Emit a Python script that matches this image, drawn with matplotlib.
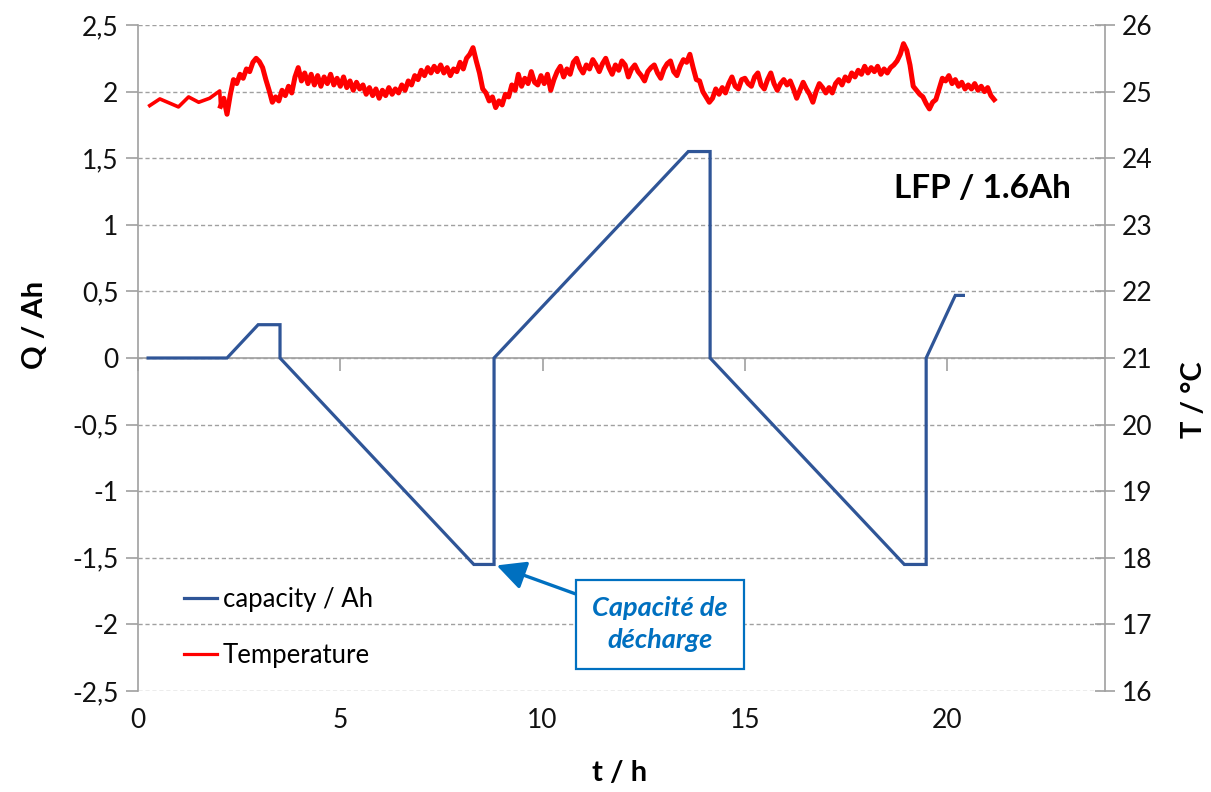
import numpy as np
import matplotlib
matplotlib.use("Agg")
import matplotlib.pyplot as plt
from matplotlib.lines import Line2D

plt.rcParams['font.family'] = ['Lato', 'DejaVu Sans']

# ---------------- data ----------------
cap_t = [0.25, 2.2, 2.97, 3.51, 3.51, 8.3, 8.8, 8.8, 13.6, 14.14, 14.14, 18.94, 19.48, 19.48, 20.2, 20.4]
cap_q = [0.0, 0.0, 0.25, 0.25, 0.0, -1.55, -1.55, 0.0, 1.55, 1.55, 0.0, -1.55, -1.55, 0.0, 0.47, 0.47]

temp_early_t = [0.29, 0.54, 1.0, 1.25, 1.5, 1.77, 2.02]
temp_early = [24.79, 24.89, 24.77, 24.92, 24.84, 24.90, 25.01]

temp_dense_start, temp_dense_end = 2.04, 21.16
temp_dense = [
    24.78, 24.90, 24.66, 24.95, 25.18, 25.12, 25.26, 25.20, 25.34, 25.30, 25.44, 25.50,
    25.45, 25.36, 25.18, 25.02, 24.84, 24.92, 24.86, 25.02, 24.94, 25.08, 24.98, 25.22, 25.36,
    25.16, 25.28, 25.12, 25.26, 25.10, 25.24, 25.08, 25.22, 25.12, 25.26, 25.10, 25.20,
    25.08, 25.22, 25.06, 25.16, 25.02, 25.14, 25.04, 25.10, 24.96, 25.06, 24.94, 25.04, 24.90,
    25.02, 24.94, 25.06, 24.96, 25.04, 24.98, 25.10, 25.02, 25.16, 25.10, 25.24, 25.18,
    25.32, 25.24, 25.36, 25.28, 25.38, 25.30, 25.40, 25.28, 25.36, 25.24, 25.34, 25.30, 25.44,
    25.34, 25.50, 25.56, 25.66, 25.46, 25.28, 25.04, 24.98, 24.86, 24.92, 24.76, 24.86,
    24.80, 24.96, 24.92, 25.10, 25.02, 25.26, 25.08, 25.20, 25.12, 25.30, 25.14, 25.10, 25.24,
    25.12, 25.26, 25.02, 25.18, 25.30, 25.38, 25.22, 25.34, 25.26, 25.44, 25.50, 25.36,
    25.28, 25.40, 25.34, 25.48, 25.40, 25.30, 25.42, 25.50, 25.36, 25.26, 25.40, 25.32, 25.46,
    25.40, 25.22, 25.34, 25.40, 25.30, 25.24, 25.16, 25.30, 25.36, 25.40, 25.28, 25.20,
    25.34, 25.42, 25.46, 25.30, 25.24, 25.38, 25.48, 25.44, 25.56, 25.36, 25.18, 25.16, 25.00,
    24.92, 24.84, 24.90, 25.04, 24.96, 25.06, 24.98, 25.12, 25.22, 25.08, 25.04, 25.18,
    25.20, 25.12, 25.08, 25.22, 25.28, 25.10, 25.04, 25.18, 25.28, 25.12, 25.02, 25.12, 25.18,
    25.10, 25.16, 25.04, 24.90, 25.02, 25.14, 25.04, 24.96, 24.84, 25.00, 25.12, 25.06,
    24.98, 25.06, 24.98, 25.12, 25.18, 25.10, 25.22, 25.16, 25.28, 25.22, 25.32, 25.26, 25.38,
    25.28, 25.36, 25.30, 25.38, 25.26, 25.34, 25.28, 25.36, 25.40, 25.46, 25.56, 25.72,
    25.62, 25.40, 25.08, 25.02, 24.96, 24.92, 24.82, 24.74, 24.84, 24.88, 25.04, 25.20, 25.16,
    25.24, 25.12, 25.18, 25.08, 25.14, 25.04, 25.10, 25.04, 25.12, 25.02, 25.08, 25.00, 25.06, 24.94, 24.88,
]

x_ticks = [0, 5, 10, 15, 20]
q_ticks = [-2.5, -2, -1.5, -1, -0.5, 0, 0.5, 1, 1.5, 2, 2.5]
q_labels = ['-2,5', '-2', '-1,5', '-1', '-0,5', '0', '0,5', '1', '1,5', '2', '2,5']
t_ticks = [16, 17, 18, 19, 20, 21, 22, 23, 24, 25, 26]

series_names = ['capacity / Ah', 'Temperature']
annot_text = 'Capacité de\ndécharge'
annot_point = (8.8, -1.55)
annot_text_pos = (12.9, -2.0)

# ---------------- style ----------------
BLUE = '#2f5597'
RED = '#ff0000'
GRAY = '#a0a0a0'
ANNOT = '#0070c0'

W, H = 1211, 792
fig = plt.figure(figsize=(W / 100, H / 100), dpi=100)
L, R, T, B = 138, 1105, 25, 691
ax = fig.add_axes([L / W, 1 - B / H, (R - L) / W, (B - T) / H])
ax2 = ax.twinx()

ax.set_xlim(0, 23.9)
ax.set_ylim(-2.5, 2.5)
ax2.set_ylim(16, 26)

ax.set_yticks(q_ticks, q_labels)
ax2.set_yticks(t_ticks, [str(v) for v in t_ticks])
ax.set_xticks(x_ticks, [str(v) for v in x_ticks])

ax.yaxis.grid(True, linestyle=(0, (3, 2)), color=GRAY, linewidth=1.0)
ax.set_axisbelow(True)

for a in (ax, ax2):
    for s in a.spines.values():
        s.set_visible(False)
ax.spines['left'].set_visible(True)
ax.spines['left'].set_color(GRAY)
ax.spines['left'].set_linewidth(1.2)
ax2.spines['right'].set_visible(True)
ax2.spines['right'].set_color(GRAY)
ax2.spines['right'].set_linewidth(1.2)

TICKFS = 19
ax.tick_params(axis='y', direction='out', length=9, color=GRAY, width=1.2,
               labelsize=TICKFS, pad=5, labelcolor='#111111')
ax2.tick_params(axis='y', direction='inout', length=14, color=GRAY, width=1.2,
                labelsize=TICKFS, pad=5, labelcolor='#111111')
ax.tick_params(axis='x', length=0, labelsize=TICKFS, pad=12, labelcolor='#111111')

# x axis line at Q = 0 with tick marks
sec = ax.secondary_xaxis(0, transform=ax.transData)
sec.set_xticks(x_ticks)
sec.tick_params(axis='x', direction='out', length=9, color=GRAY, width=1.2, labelbottom=False)
for k, s in sec.spines.items():
    s.set_visible(k == 'bottom')
sec.spines['bottom'].set_color(GRAY)
sec.spines['bottom'].set_linewidth(1.2)

# lines
ax.plot(cap_t, cap_q, color=BLUE, linewidth=2.3, solid_joinstyle='miter', zorder=3)
dense_t = np.linspace(temp_dense_start, temp_dense_end, len(temp_dense))
ax2.plot(list(temp_early_t) + [dense_t[0]], list(temp_early) + [temp_dense[0]],
         color=RED, linewidth=2.6, zorder=3)
ax2.plot(dense_t, temp_dense, color=RED, linewidth=3.6, zorder=3)

# labels
fig.text(35 / W, 1 - 325 / H, 'Q / Ah', rotation=90, ha='center', va='center',
         fontsize=21, fontweight='bold')
fig.text(1194 / W, 1 - 400 / H, 'T / °C', rotation=90, ha='center', va='center',
         fontsize=21, fontweight='bold')
fig.text(620 / W, 1 - 773 / H, 't / h', ha='center', va='center',
         fontsize=21, fontweight='bold')
fig.text(982 / W, 1 - 189 / H, 'LFP / 1.6Ah', ha='center', va='center',
         fontsize=24, fontweight='bold')

# annotation
ax.annotate(annot_text, xy=annot_point, xytext=annot_text_pos, textcoords='data',
            ha='center', va='center', fontsize=19.5, fontweight='bold', style='italic',
            color=ANNOT, linespacing=1.4,
            bbox=dict(boxstyle='square,pad=0.6', fc='white', ec=ANNOT, lw=1.6),
            arrowprops=dict(arrowstyle='-|>,head_length=0.9,head_width=0.45', color=ANNOT,
                            lw=2.4, shrinkA=0, shrinkB=2),
            zorder=5)

# legend
handles = [Line2D([], [], color=BLUE, linewidth=2.3), Line2D([], [], color=RED, linewidth=2.3)]
leg = ax2.legend(handles, series_names, loc='upper left',
                 bbox_to_anchor=(184 / W, 1 - 587 / H), bbox_transform=fig.transFigure,
                 frameon=False, fontsize=18.5, handlelength=1.3, handletextpad=0.2,
                 labelspacing=1.2, borderpad=0, borderaxespad=0)

fig.savefig('out.png', dpi=100)
